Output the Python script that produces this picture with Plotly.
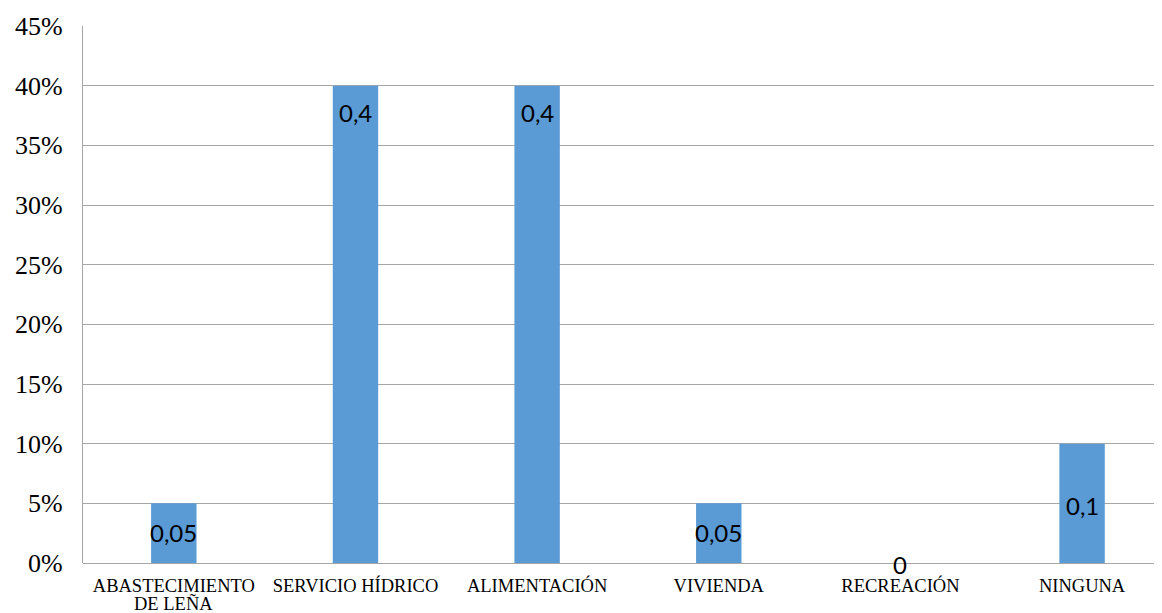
import plotly.graph_objects as go

categories = ["ABASTECIMIENTO\nDE LEÑA", "SERVICIO HÍDRICO", "ALIMENTACIÓN", "VIVIENDA", "RECREACIÓN", "NINGUNA"]
values = [0.05, 0.4, 0.4, 0.05, 0, 0.1]
y_ticks = [0, 0.05, 0.10, 0.15, 0.20, 0.25, 0.30, 0.35, 0.40, 0.45]
y_tick_labels = ["0%", "5%", "10%", "15%", "20%", "25%", "30%", "35%", "40%", "45%"]

label_shift = [-29, -27, -27, -29, -1, -62]

xs = list(range(len(categories)))
first_lines = [c.split("\n")[0] for c in categories]

fig = go.Figure()
fig.add_trace(go.Bar(
    x=xs, y=values,
    marker=dict(color="#5b9bd5", line=dict(width=0)),
    width=0.25, hoverinfo="skip",
))

for i, (v, s) in enumerate(zip(values, label_shift)):
    fig.add_annotation(
        x=i, y=v, yshift=s, text=(("%g" % v).replace(".", ",")),
        showarrow=False, yanchor="middle", xanchor="center",
        font=dict(family="Lato, Open Sans, sans-serif", size=24, color="#000000"),
    )

# continuation lines of wrapped category labels (tighter line spacing than plotly's <br>)
for i, c in enumerate(categories):
    for k, line in enumerate(c.split("\n")[1:], start=1):
        fig.add_annotation(
            x=i, xref="x", y=0, yref="paper", yshift=-22 - 18 * k,
            text=line, showarrow=False, yanchor="middle", xanchor="center",
            font=dict(family="Liberation Serif, serif", size=18.5, color="#000000"),
        )

fig.update_layout(
    width=1154, height=605,
    margin=dict(l=75, r=0, t=18, b=50),
    paper_bgcolor="white", plot_bgcolor="white",
    showlegend=False,
    xaxis=dict(
        range=[-0.5, 5.44], automargin=False,
        tickmode="array", tickvals=xs, ticktext=first_lines,
        tickfont=dict(family="Liberation Serif, serif", size=18.5, color="#000000"),
        showgrid=False, zeroline=False, showline=False, ticks="",
        ticklabelstandoff=9,
    ),
    yaxis=dict(
        range=[0, 0.45], automargin=False,
        tickmode="array", tickvals=y_ticks, ticktext=y_tick_labels,
        tickfont=dict(family="Liberation Serif, serif", size=26, color="#000000"),
        showgrid=True, gridcolor="#a6a6a6", gridwidth=1.3,
        zeroline=True, zerolinecolor="#a6a6a6", zerolinewidth=1.3,
        showline=True, linecolor="#a6a6a6", linewidth=1.3, mirror=False,
        ticks="", ticklabelstandoff=14,
    ),
)

fig.write_html("out.html")
